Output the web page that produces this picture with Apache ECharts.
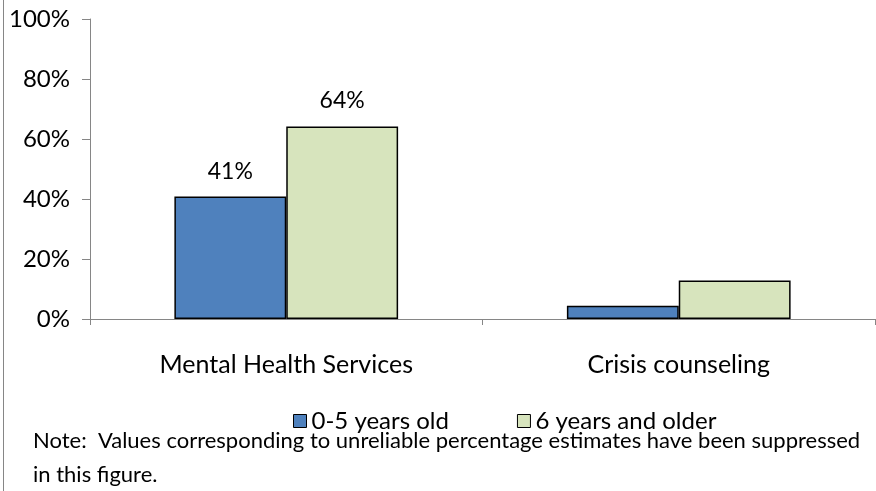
<!DOCTYPE html>
<html>
<head>
<meta charset="utf-8">
<script src="https://cdn.jsdelivr.net/npm/echarts@6/dist/echarts.min.js"></script>
<style>
  html, body { margin: 0; padding: 0; background: #fff; }
  #chart { width: 876px; height: 491px; }
</style>
</head>
<body>
<div id="chart"></div>
<script>
const categories = ['Mental Health Services', 'Crisis counseling'];
const youngValues = [40.8, 4.4];
const olderValues = [64.2, 12.8];
const youngLabels = ['41%', ''];
const olderLabels = ['64%', ''];
const seriesNames = ['0-5 years old', '6 years and older'];
const colors = ['#4f81bd', '#d7e4bd'];
const noteLines = [
  'Note:  Values corresponding to unreliable percentage estimates have been suppressed',
  'in this figure.'
];

const font = 'Lato, "Open Sans", sans-serif';
const chart = echarts.init(document.getElementById('chart'));

function makeSeries(name, values, labels, color) {
  return {
    name: name,
    type: 'bar',
    data: values,
    barGap: '0%',
    barCategoryGap: '43%',
    itemStyle: { color: color, borderColor: '#000', borderWidth: 1.5 },
    label: {
      show: true,
      position: 'top',
      distance: 14,
      color: '#000',
      fontSize: 23,
      fontFamily: font,
      formatter: (p) => labels[p.dataIndex]
    }
  };
}

chart.setOption({
  animation: false,
  textStyle: { fontFamily: font },
  grid: { left: 90, right: 1, top: 19, bottom: 172 },
  legend: {
    data: seriesNames,
    left: 288,
    top: 404,
    itemWidth: 13,
    itemHeight: 13,
    itemGap: 68,
    icon: 'rect',
    itemStyle: { borderColor: '#000', borderWidth: 1 },
    textStyle: { fontSize: 24, color: '#000', fontFamily: font }
  },
  xAxis: {
    type: 'category',
    data: categories,
    axisLine: { lineStyle: { color: '#868686' } },
    axisTick: { show: true, length: 6, lineStyle: { color: '#868686' } },
    axisLabel: { color: '#000', fontSize: 25, margin: 33, fontFamily: font }
  },
  yAxis: {
    type: 'value',
    min: 0,
    max: 100,
    interval: 20,
    splitLine: { show: false },
    axisLine: { show: true, lineStyle: { color: '#868686' } },
    axisTick: { show: true, length: 8, lineStyle: { color: '#868686' } },
    axisLabel: { color: '#000', fontSize: 24, margin: 20, formatter: '{value}%', fontFamily: font }
  },
  series: [
    makeSeries(seriesNames[0], youngValues, youngLabels, colors[0]),
    makeSeries(seriesNames[1], olderValues, olderLabels, colors[1])
  ],
  graphic: [
    {
      type: 'line',
      shape: { x1: 3.5, y1: 0, x2: 3.5, y2: 491 },
      style: { stroke: '#868686', lineWidth: 1 }
    },
    {
      type: 'text',
      left: 33,
      top: 430,
      style: { text: noteLines[0], fontSize: 22, fill: '#000', fontFamily: font }
    },
    {
      type: 'text',
      left: 33,
      top: 464,
      style: { text: noteLines[1], fontSize: 22, fill: '#000', fontFamily: font }
    }
  ]
});
</script>
</body>
</html>
